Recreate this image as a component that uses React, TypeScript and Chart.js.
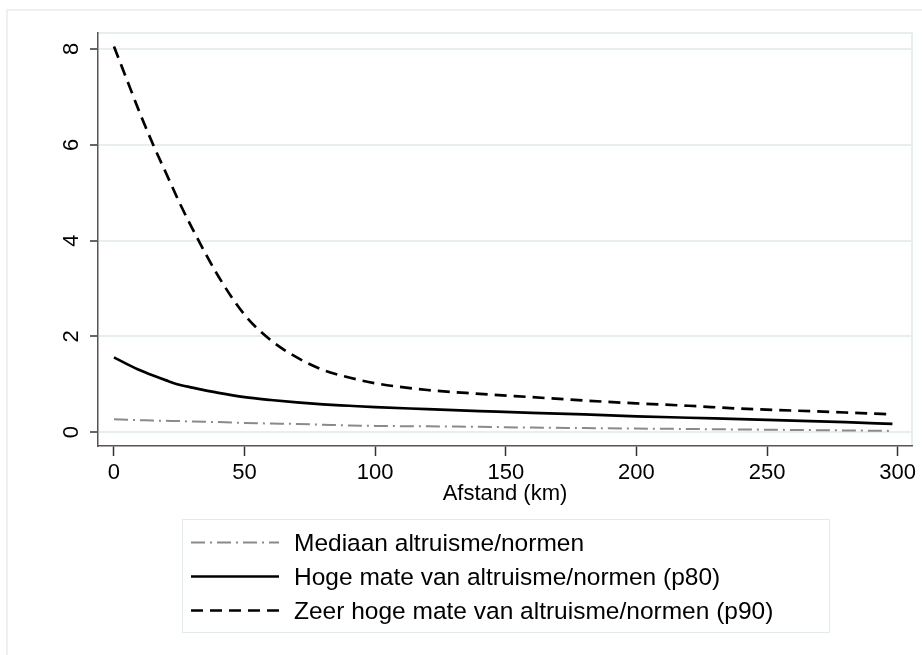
import React, { useEffect, useRef } from "react";
import { Chart, registerables } from "chart.js";

Chart.register(...registerables);

// ---- data ----
const DISTANCE_KM = [0, 5, 10, 15, 20, 25, 30, 40, 50, 60, 70, 80, 90, 100, 120, 140, 160, 180, 200, 220, 240, 260, 280, 298];
const MEDIAAN = [0.27, 0.26, 0.25, 0.24, 0.235, 0.23, 0.22, 0.21, 0.19, 0.18, 0.17, 0.155, 0.14, 0.13, 0.12, 0.11, 0.095, 0.085, 0.075, 0.065, 0.055, 0.045, 0.035, 0.025];
const P80 = [1.56, 1.42, 1.29, 1.18, 1.08, 0.99, 0.93, 0.82, 0.73, 0.67, 0.62, 0.58, 0.55, 0.52, 0.48, 0.44, 0.4, 0.37, 0.33, 0.3, 0.27, 0.24, 0.21, 0.17];
const P90 = [8.05, 7.35, 6.65, 6.0, 5.4, 4.8, 4.25, 3.25, 2.45, 1.92, 1.56, 1.3, 1.14, 1.02, 0.88, 0.8, 0.73, 0.66, 0.6, 0.55, 0.49, 0.45, 0.41, 0.37];
const X_TICKS = [0, 50, 100, 150, 200, 250, 300];
const Y_TICKS = [0, 2, 4, 6, 8];
const SERIES_LABELS = [
  "Mediaan altruisme/normen",
  "Hoge mate van altruisme/normen (p80)",
  "Zeer hoge mate van altruisme/normen (p90)",
];
const X_TITLE = "Afstand (km)";

const FONT = "'Liberation Sans', Arial, Helvetica, sans-serif";
const LIGHT = "#e6eef0";

const toPoints = (ys: number[]) => DISTANCE_KM.map((x, i) => ({ x, y: ys[i] }));

const framePlugin = {
  id: "stataFrame",
  beforeDraw(chart: any) {
    const { ctx, chartArea } = chart;
    ctx.save();
    ctx.fillStyle = "#ffffff";
    ctx.fillRect(0, 0, chart.width, chart.height);
    ctx.strokeStyle = LIGHT;
    ctx.lineWidth = 1.5;
    // outer graph frame
    ctx.beginPath();
    ctx.moveTo(7, chart.height);
    ctx.lineTo(7, 10);
    ctx.lineTo(chart.width, 10);
    ctx.stroke();
    // plot region top / right
    ctx.lineWidth = 2;
    ctx.beginPath();
    ctx.moveTo(chartArea.left, chartArea.top);
    ctx.lineTo(chartArea.right, chartArea.top);
    ctx.lineTo(chartArea.right, chartArea.bottom);
    ctx.stroke();
    ctx.restore();
  },
  afterDraw(chart: any) {
    const { ctx } = chart;
    ctx.save();
    // legend box
    ctx.strokeStyle = "#e2eaec";
    ctx.lineWidth = 1;
    ctx.strokeRect(182.5, 519.5, 647, 113);
    const rows = [542.5, 576.5, 610.5];
    chart.data.datasets.forEach((ds: any, i: number) => {
      const y = rows[i];
      ctx.strokeStyle = ds.borderColor;
      ctx.lineWidth = ds.borderWidth;
      ctx.setLineDash(ds.borderDash || []);
      ctx.beginPath();
      ctx.moveTo(191, y);
      ctx.lineTo(279, y);
      ctx.stroke();
      ctx.setLineDash([]);
      ctx.fillStyle = "#000";
      ctx.font = `24.5px ${FONT}`;
      ctx.textBaseline = "alphabetic";
      ctx.textAlign = "left";
      ctx.fillText(ds.label, 294, y + 8.8);
    });
    ctx.restore();
  },
};

export default function App() {
  const ref = useRef<HTMLCanvasElement | null>(null);

  useEffect(() => {
    if (!ref.current) return;
    const chart = new Chart(ref.current, {
      type: "line",
      data: {
        datasets: [
          {
            label: SERIES_LABELS[0],
            data: toPoints(MEDIAAN),
            borderColor: "#8a8a8a",
            borderWidth: 2,
            borderDash: [14, 5, 2, 5],
            pointRadius: 0,
            fill: false,
            cubicInterpolationMode: "monotone",
          },
          {
            label: SERIES_LABELS[1],
            data: toPoints(P80),
            borderColor: "#000000",
            borderWidth: 2.7,
            pointRadius: 0,
            fill: false,
            cubicInterpolationMode: "monotone",
          },
          {
            label: SERIES_LABELS[2],
            data: toPoints(P90),
            borderColor: "#000000",
            borderWidth: 2.7,
            borderDash: [12, 7],
            pointRadius: 0,
            fill: false,
            cubicInterpolationMode: "monotone",
          },
        ],
      },
      options: {
        responsive: false,
        animation: false,
        layout: { padding: { left: 30, right: 10, top: 33, bottom: 139 } },
        plugins: {
          legend: { display: false },
          tooltip: { enabled: false },
        },
        scales: {
          x: {
            type: "linear",
            min: -6.12,
            max: 305.5,
            afterBuildTicks: (axis: any) => {
              axis.ticks = X_TICKS.map((v) => ({ value: v }));
            },
            afterFit: (scale: any) => {
              scale.height = 70;
            },
            ticks: {
              autoSkip: false,
              maxRotation: 0,
              minRotation: 0,
              padding: 4,
              color: "#000",
              font: { family: FONT, size: 22, lineHeight: 1.2 },
            },
            grid: {
              drawOnChartArea: false,
              drawTicks: true,
              tickLength: 10,
              tickColor: "#333",
              tickWidth: 1.5,
            },
            border: { color: "#555", width: 1.5 },
            title: {
              display: true,
              text: X_TITLE,
              color: "#000",
              font: { family: FONT, size: 22, lineHeight: 1.2 },
              padding: { top: 0, bottom: 9 },
            },
          },
          y: {
            type: "linear",
            min: -0.29,
            max: 8.334,
            afterBuildTicks: (axis: any) => {
              axis.ticks = Y_TICKS.map((v) => ({ value: v }));
            },
            afterFit: (scale: any) => {
              scale.width = 68;
            },
            ticks: {
              autoSkip: false,
              minRotation: 90,
              maxRotation: 90,
              crossAlign: "center",
              padding: 12,
              color: "#000",
              font: { family: FONT, size: 22, lineHeight: 1.2 },
            },
            grid: {
              color: "#e6eef0",
              lineWidth: 2,
              drawTicks: true,
              tickLength: 8,
              tickColor: "#333",
              tickWidth: 1.5,
            },
            border: { color: "#555", width: 1.5 },
          },
        },
      },
      plugins: [framePlugin],
    } as any);
    return () => chart.destroy();
  }, []);

  return (
    <div style={{ position: "absolute", left: 0, top: 0, width: 922, height: 655, background: "#fff" }}>
      <canvas ref={ref} width={922} height={655} style={{ display: "block" }} />
    </div>
  );
}
